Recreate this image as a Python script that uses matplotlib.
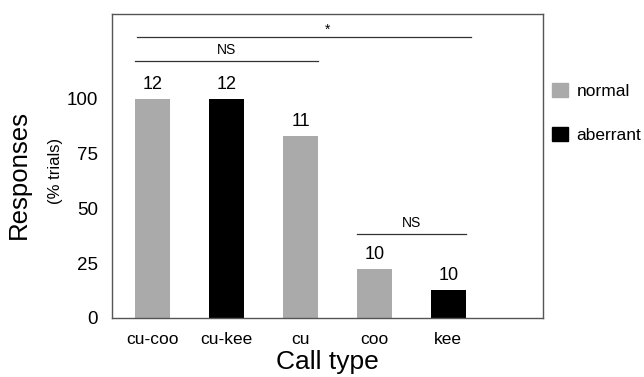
import matplotlib
matplotlib.use("Agg")
import matplotlib.pyplot as plt
from matplotlib.patches import Patch

categories = ["cu-coo", "cu-kee", "cu", "coo", "kee"]
values = [100, 100, 83.3, 22.5, 13]
counts = ["12", "12", "11", "10", "10"]
groups = ["normal", "aberrant", "normal", "normal", "aberrant"]
colors = {"normal": "#aaaaaa", "aberrant": "#000000"}

# significance brackets: (x start, x end, y, label, label x)
brackets = [(-0.21, 4.31, 128.3, "*", 2.36), (-0.24, 2.24, 117.4, "NS", 1.0), (2.76, 4.24, 38.4, "NS", 3.5)]

plt.rcParams['font.family'] = ['Liberation Sans', 'DejaVu Sans']
fig = plt.figure(figsize=(6.44, 3.77), dpi=100)
ax = fig.add_axes([0.174, 0.1565, 0.669, 0.8065])

x = list(range(len(categories)))
ax.bar(x, values, width=0.47, color=[colors[g] for g in groups])
for xi, v, c in zip(x, values, counts):
    ax.text(xi, v + 2.5, c, ha="center", va="bottom", fontsize=13)

for x0, x1, y, lab, lx in brackets:
    ax.plot([x0, x1], [y, y], color="#333333", lw=0.9)
    if lab == "*":
        ax.text(lx, y + 0.3, lab, ha="center", va="bottom", fontsize=10)
    else:
        ax.text(lx, y + 1.8, lab, ha="center", va="bottom", fontsize=10)

ax.set_xlim(-0.55, 5.28)
ax.set_ylim(0, 138.8)
ax.set_xticks(x)
ax.set_xticklabels(categories, fontsize=12.5)
ax.set_yticks([0, 25, 50, 75, 100])
ax.set_yticklabels(["0", "25", "50", "75", "100"], fontsize=13.5)
ax.tick_params(length=0)
ax.tick_params(axis="y", pad=10)
ax.tick_params(axis="x", pad=10)
for s in ax.spines.values():
    s.set_color("#555555")
    s.set_linewidth(1.0)

ax.set_xlabel("Call type", fontsize=19, labelpad=2)
fig.text(0.030, 0.536, "Responses", rotation=90, fontsize=18.5, ha="center", va="center")
fig.text(0.086, 0.546, "(% trials)", rotation=90, fontsize=12, ha="center", va="center")

handles = [Patch(color=colors["normal"], label="normal"), Patch(color=colors["aberrant"], label="aberrant")]
fig.legend(handles=handles, loc="upper left", bbox_to_anchor=(552 / 644, 1 - 83 / 377), frameon=False,
           fontsize=12.5, handlelength=0.92, handleheight=0.9, handletextpad=0.5, labelspacing=1.6,
           borderpad=0, borderaxespad=0)

fig.savefig("out.png", dpi=100)
